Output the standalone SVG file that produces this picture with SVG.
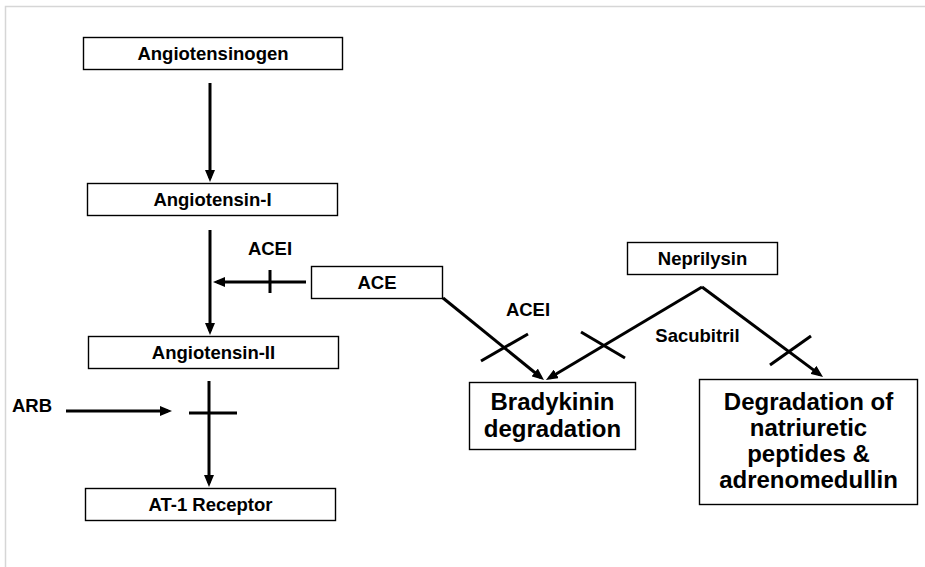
<svg xmlns="http://www.w3.org/2000/svg" width="925" height="567" viewBox="0 0 925 567">
<defs>
<style>
.box{fill:#fff;stroke:#000;stroke-width:1.4}
.t{font-family:"Liberation Sans",Arial,sans-serif;font-weight:bold;font-size:18.5px;fill:#000;text-anchor:middle}
.big{font-size:24px}
.ln{stroke:#000;stroke-width:3;fill:none}
.ar{marker-end:url(#ah)}
</style>
<marker id="ah" markerUnits="userSpaceOnUse" markerWidth="12" markerHeight="10" refX="8" refY="5" orient="auto">
<path d="M0,0 L12,5 L0,10 z" fill="#000"/>
</marker>
</defs>
<rect width="925" height="567" fill="#fff"/>
<path d="M5.5,567 V6.5 H925" fill="none" stroke="#d6d6d6" stroke-width="1.5"/>

<g id="connectors">
<line class="ln ar" x1="210" y1="83" x2="210" y2="178"/>
<line class="ln ar" x1="210" y1="230" x2="210" y2="331"/>
<line class="ln ar" x1="306" y1="282" x2="217" y2="282"/>
<line class="ln" x1="270" y1="270" x2="270" y2="293"/>
<line class="ln ar" x1="209" y1="381" x2="209" y2="483"/>
<line class="ln" x1="189" y1="413" x2="237" y2="413"/>
<line class="ln ar" x1="66" y1="411" x2="168" y2="411"/>
<line class="ln ar" x1="443" y1="298" x2="540.9" y2="377.5"/>
<line class="ln" x1="481" y1="361" x2="528" y2="334"/>
<line class="ln ar" x1="702" y1="287" x2="549.4" y2="378"/>
<line class="ln" x1="581" y1="332" x2="625" y2="358"/>
<line class="ln ar" x1="702" y1="287" x2="819.8" y2="374.6"/>
<line class="ln" x1="770" y1="365" x2="811" y2="336"/>
</g>

<g id="labels">
<text class="t" x="270" y="254.5">ACEI</text>
<text class="t" x="528" y="316">ACEI</text>
<text class="t" x="697.5" y="342">Sacubitril</text>
<text class="t" x="12" y="412" style="text-anchor:start">ARB</text>
</g>

<g id="angiotensinogen">
<rect class="box" x="83.5" y="37.5" width="259" height="32"/>
<text class="t" x="213" y="60">Angiotensinogen</text>
</g>
<g id="angiotensin-i">
<rect class="box" x="87.5" y="183.5" width="250" height="32"/>
<text class="t" x="212.5" y="206">Angiotensin-I</text>
</g>
<g id="ace">
<rect class="box" x="311.5" y="266.5" width="131" height="32"/>
<text class="t" x="377" y="289">ACE</text>
</g>
<g id="angiotensin-ii">
<rect class="box" x="88.5" y="336.5" width="250" height="32"/>
<text class="t" x="213.5" y="359">Angiotensin-II</text>
</g>
<g id="at1-receptor">
<rect class="box" x="85.5" y="488.5" width="250" height="32"/>
<text class="t" x="210.5" y="511">AT-1 Receptor</text>
</g>
<g id="neprilysin">
<rect class="box" x="627.5" y="242.5" width="150" height="32"/>
<text class="t" x="702.5" y="265">Neprilysin</text>
</g>
<g id="bradykinin">
<rect class="box" x="469.5" y="382.5" width="166" height="67"/>
<text class="t big" x="552.5" y="410">Bradykinin</text>
<text class="t big" x="552.5" y="437">degradation</text>
</g>
<g id="degradation">
<rect class="box" x="699.5" y="379.5" width="218" height="125"/>
<text class="t big" x="808.5" y="410">Degradation of</text>
<text class="t big" x="808.5" y="436">natriuretic</text>
<text class="t big" x="808.5" y="462">peptides &amp;</text>
<text class="t big" x="808.5" y="488">adrenomedullin</text>
</g>
</svg>
